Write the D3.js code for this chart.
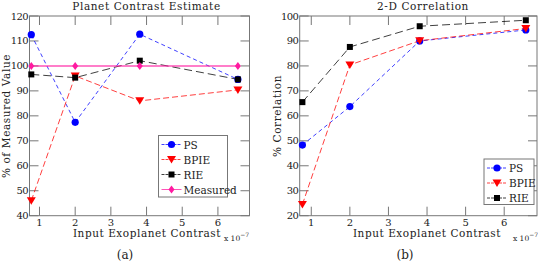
<!DOCTYPE html>
<html>
<head>
<meta charset="utf-8">
<script src="https://cdn.jsdelivr.net/npm/d3@7/dist/d3.min.js"></script>
<style>
  body { margin: 0; background: #fff; }
</style>
</head>
<body>
<svg id="chart" width="538" height="266"></svg>
<script>
// contrast values (x 10^-7)
const contrast = [0.77, 2.0, 3.81, 6.56];

// panel (a): planet contrast estimate, % of measured value
const estPS = [112.5, 77.4, 112.7, 94.6];
const estBPIE = [46, 96, 86, 90.4];
const estRIE = [96.6, 95.3, 102.1, 94.6];
const estMeasured = [100, 100, 100, 100];

// panel (b): 2-D correlation, %
const corPS = [48.3, 63.7, 90, 94.4];
const corBPIE = [24.5, 80.4, 90.1, 95];
const corRIE = [65.5, 87.6, 95.9, 98.3];

const xTicks = [1, 2, 3, 4, 5, 6];
const yTicksA = [40, 50, 60, 70, 80, 90, 100, 110, 120];
const yTicksB = [20, 30, 40, 50, 60, 70, 80, 90, 100];

const styles = {
  PS: { color: "#0000ff", dash: "4,3", marker: "circle" },
  BPIE: { color: "#ff0000", dash: "6,3", marker: "tri" },
  RIE: { color: "#000000", dash: "8,4", marker: "square" },
  Measured: { color: "#ff1aa0", dash: null, marker: "diamond" }
};

const serif = "'DejaVu Serif', serif";
const svg = d3.select("#chart");
const ink = "#222";

function label(g, x, y, size, str) {
  return g.append("text").attr("x", x).attr("y", y)
    .style("font-family", serif).style("font-size", size + "px")
    .attr("fill", ink).text(str);
}

function drawMarker(g, kind, color, cx, cy) {
  if (kind === "circle") {
    g.append("circle").attr("cx", cx).attr("cy", cy).attr("r", 3.6).attr("fill", color);
  } else if (kind === "tri") {
    g.append("path")
      .attr("d", `M${cx - 4.5},${cy - 3.5} L${cx + 4.5},${cy - 3.5} L${cx},${cy + 4} Z`)
      .attr("fill", color);
  } else if (kind === "square") {
    g.append("rect").attr("x", cx - 3).attr("y", cy - 3).attr("width", 6).attr("height", 6).attr("fill", color);
  } else {
    g.append("path")
      .attr("d", `M${cx},${cy - 4} L${cx + 3},${cy} L${cx},${cy + 4} L${cx - 3},${cy} Z`)
      .attr("fill", color);
  }
}

function drawPanel(opt) {
  const x = d3.scaleLinear().domain(opt.xDomain).range([opt.left, opt.right]);
  const y = d3.scaleLinear().domain(opt.yDomain).range([opt.bottom, opt.top]);
  const g = svg.append("g");
  const tickLen = 9;
  const frame = "#777";

  // ticks on all four sides (inside)
  xTicks.forEach((t) => {
    g.append("line").attr("x1", x(t)).attr("x2", x(t)).attr("y1", opt.bottom).attr("y2", opt.bottom - tickLen)
      .attr("stroke", frame).attr("stroke-width", 1);
    g.append("line").attr("x1", x(t)).attr("x2", x(t)).attr("y1", opt.top).attr("y2", opt.top + tickLen)
      .attr("stroke", frame).attr("stroke-width", 1);
    label(g, x(t), opt.bottom + 10, 10, t).attr("text-anchor", "middle");
  });
  opt.yTicks.forEach((t) => {
    g.append("line").attr("x1", opt.left).attr("x2", opt.left + tickLen).attr("y1", y(t)).attr("y2", y(t))
      .attr("stroke", frame).attr("stroke-width", 1);
    g.append("line").attr("x1", opt.right).attr("x2", opt.right - tickLen).attr("y1", y(t)).attr("y2", y(t))
      .attr("stroke", frame).attr("stroke-width", 1);
    label(g, opt.left - 1.5, y(t) + 3.5, 10, t).attr("text-anchor", "end").attr("letter-spacing", "-0.6px");
  });

  g.append("rect").attr("x", opt.left).attr("y", opt.top)
    .attr("width", opt.right - opt.left).attr("height", opt.bottom - opt.top)
    .attr("fill", "none").attr("stroke", frame).attr("stroke-width", 1);

  const line = d3.line().x((d) => x(d[0])).y((d) => y(d[1]));

  opt.series.forEach((s) => {
    const st = styles[s.name];
    const pts = contrast.map((c, i) => [c, s.values[i]]);
    g.append("path").datum(pts).attr("d", line).attr("fill", "none")
      .attr("stroke", st.color).attr("stroke-width", s.name === "Measured" ? 1.5 : 1)
      .attr("stroke-opacity", 0.75)
      .attr("stroke-dasharray", st.dash);
    pts.forEach((p) => drawMarker(g, st.marker, st.color, x(p[0]), y(p[1])));
  });

  // legend
  const L = opt.legend;
  g.append("rect").attr("x", L.x).attr("y", L.y).attr("width", L.w).attr("height", L.h)
    .attr("fill", "#fff").attr("stroke", frame).attr("stroke-width", 1);
  opt.series.forEach((s, i) => {
    const st = styles[s.name];
    const ly = L.y + 9 + i * 15;
    g.append("line").attr("x1", L.x + 3).attr("x2", L.x + 23).attr("y1", ly).attr("y2", ly)
      .attr("stroke", st.color).attr("stroke-width", 1).attr("stroke-opacity", 0.75)
      .attr("stroke-dasharray", st.dash ? "3,1" : null);
    drawMarker(g, st.marker, st.color, L.x + 13, ly);
    label(g, L.x + 25, ly + 4, 10.5, s.name);
  });

  // titles and labels
  label(g, opt.titleX, 10, 10.5, opt.title).attr("text-anchor", "middle").attr("letter-spacing", "0.6px");
  label(g, opt.xlabX, 237, 10.5, "Input Exoplanet Contrast").attr("text-anchor", "middle").attr("letter-spacing", "0.55px");
  const ex = label(g, opt.expX, 241, 7.5, "");
  ex.append("tspan").text("x 10");
  ex.append("tspan").attr("dy", -4).style("font-size", "6px").text("−7");
  label(g, 0, 0, 10.5, opt.ylabel)
    .attr("transform", `translate(${opt.ylabX},${opt.ylabY}) rotate(-90)`)
    .attr("text-anchor", "middle").attr("letter-spacing", "0.6px");
  label(g, opt.capX, 259, 12, opt.caption).attr("text-anchor", "middle");
}

drawPanel({
  left: 29.5, right: 249.5, top: 16, bottom: 215.7,
  xDomain: [0.72, 6.885], yDomain: [40, 120], yTicks: yTicksA,
  series: [
    { name: "PS", values: estPS },
    { name: "BPIE", values: estBPIE },
    { name: "RIE", values: estRIE },
    { name: "Measured", values: estMeasured }
  ],
  legend: { x: 158.5, y: 135.5, w: 69, h: 61.5 },
  title: "Planet Contrast Estimate", titleX: 146.5,
  xlabX: 147, expX: 224, ylabel: "% of Measured Value", ylabX: 10, ylabY: 116,
  caption: "(a)", capX: 125
});

drawPanel({
  left: 299.7, right: 537, top: 16, bottom: 215.7,
  xDomain: [0.70, 6.85], yDomain: [20, 100], yTicks: yTicksB,
  series: [
    { name: "PS", values: corPS },
    { name: "BPIE", values: corBPIE },
    { name: "RIE", values: corRIE }
  ],
  legend: { x: 484, y: 159, w: 50, h: 45.5 },
  title: "2-D Correlation", titleX: 423,
  xlabX: 427, expX: 513, ylabel: "% Correlation", ylabX: 281, ylabY: 116,
  caption: "(b)", capX: 405
});
</script>
</body>
</html>
